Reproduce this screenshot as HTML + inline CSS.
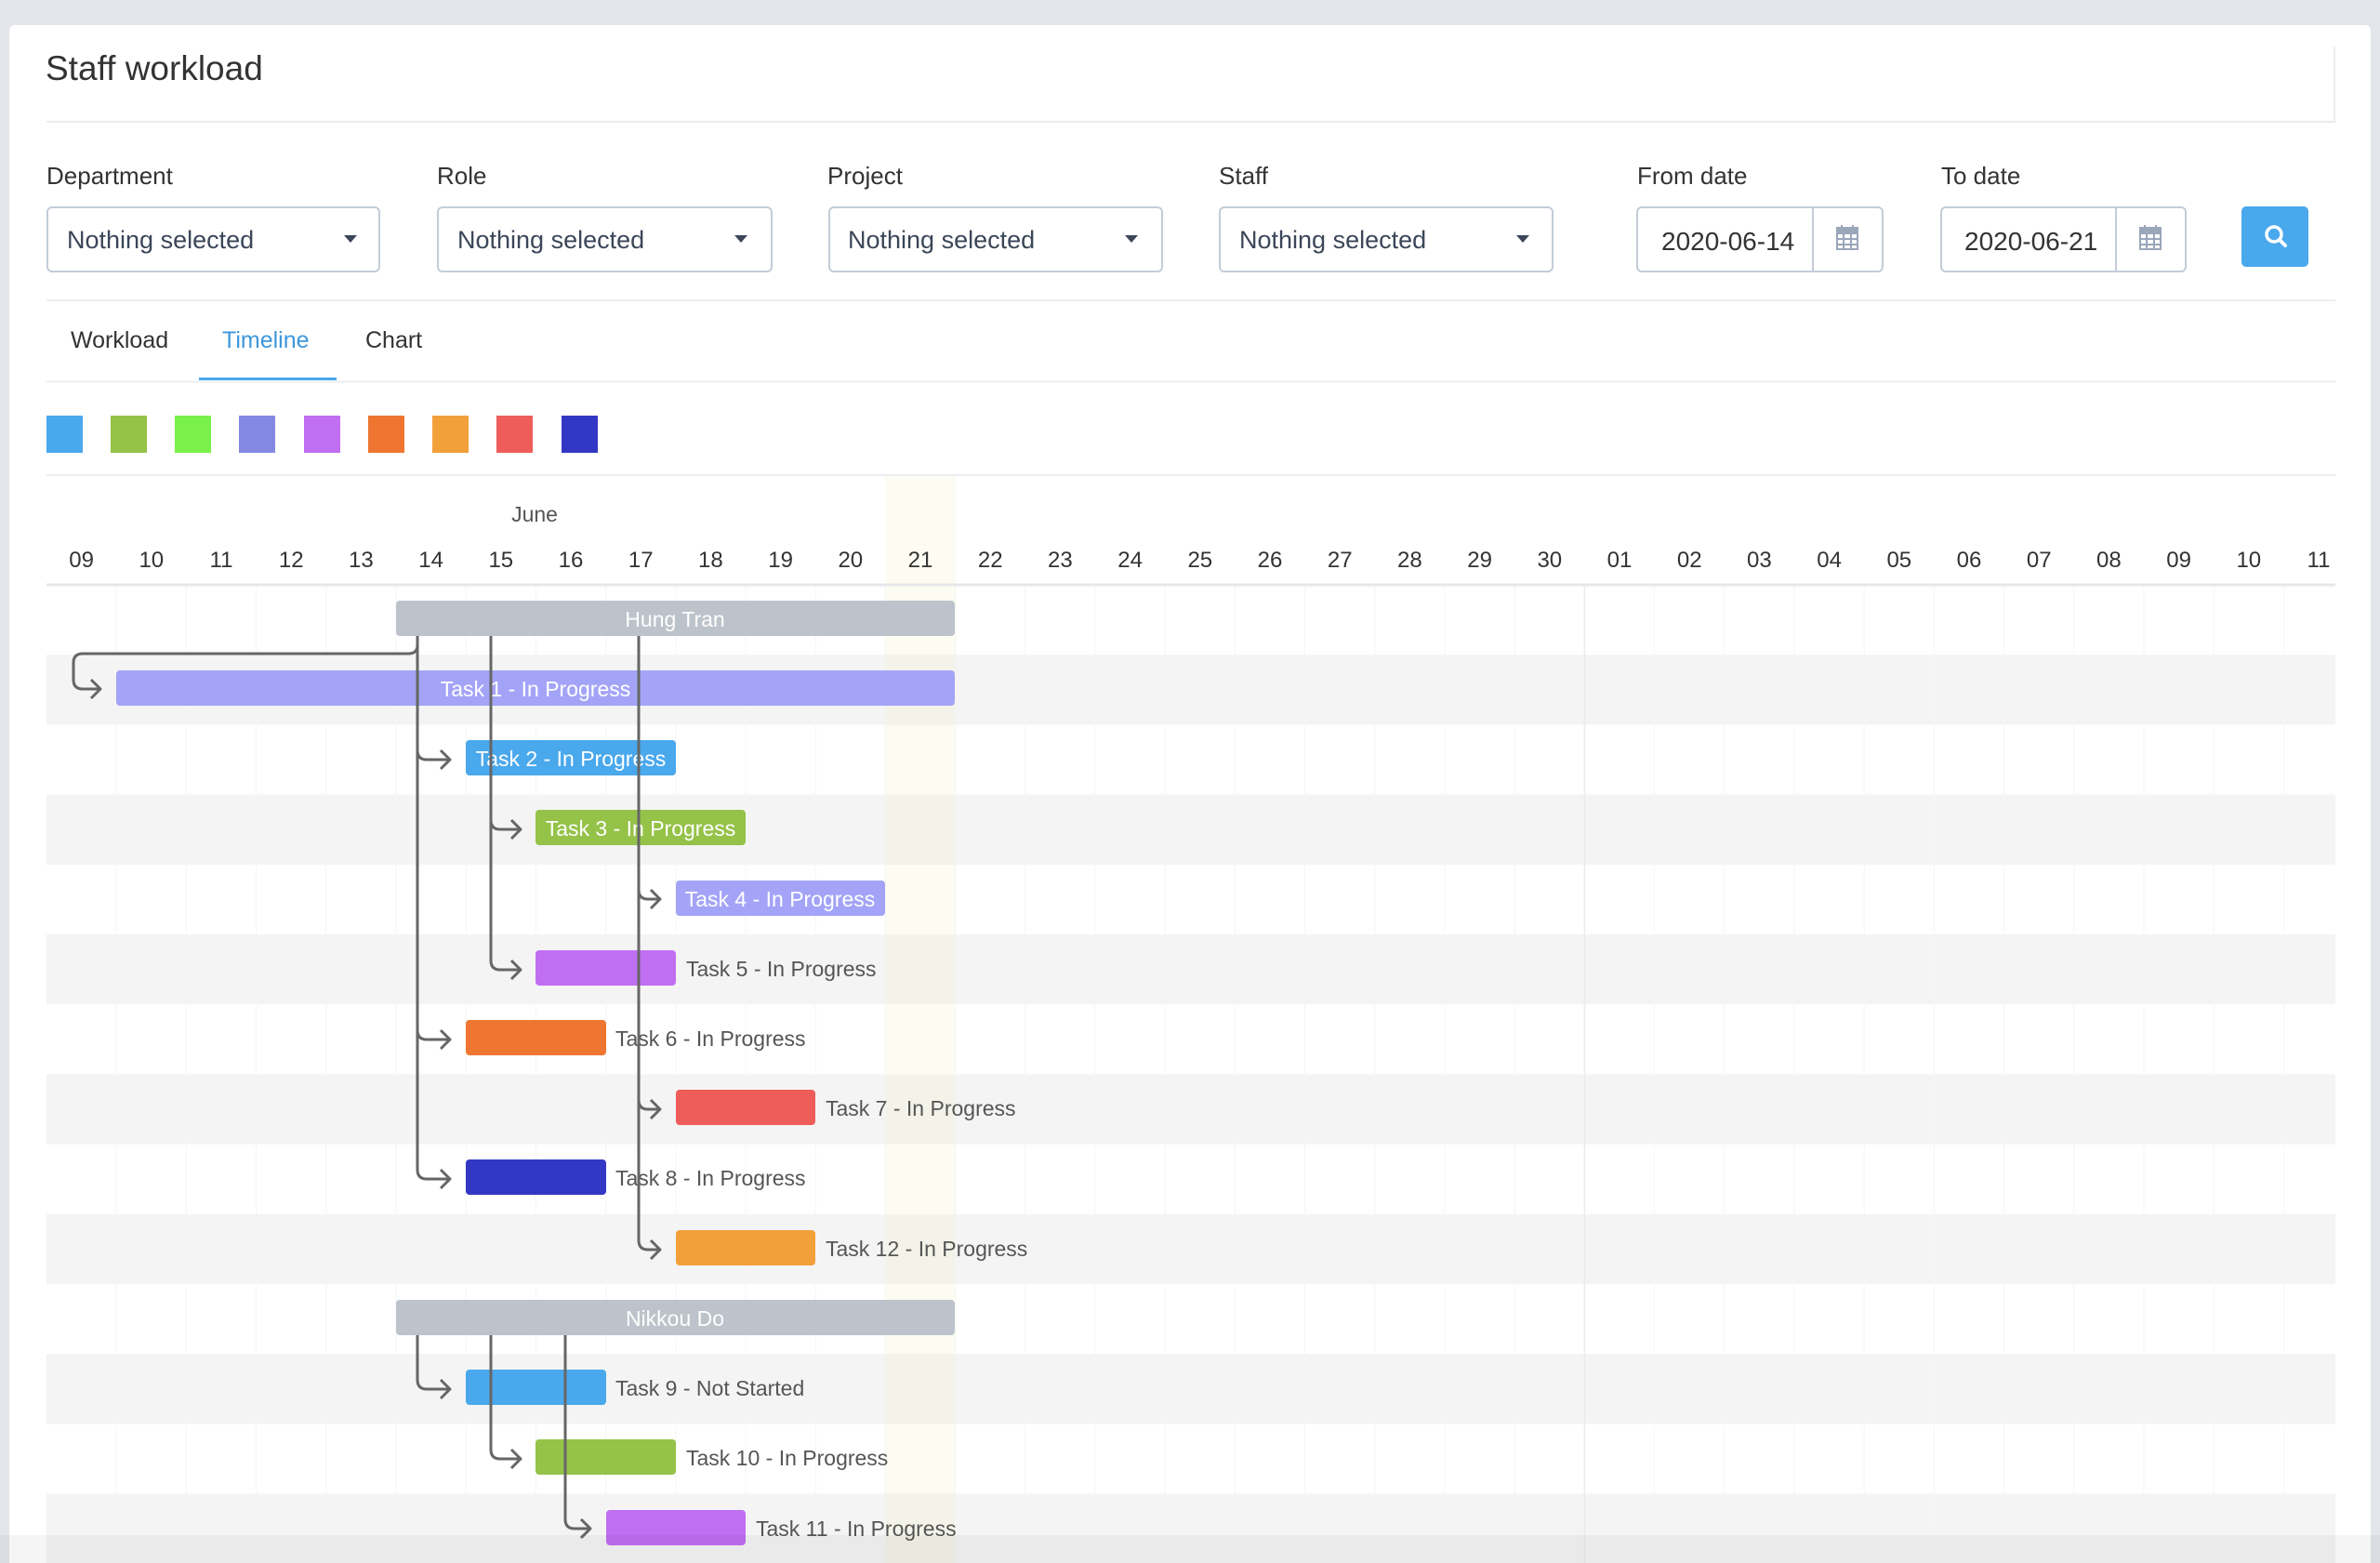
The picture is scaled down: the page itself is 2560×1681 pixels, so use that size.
<!DOCTYPE html>
<html><head><meta charset="utf-8"><style>
html,body{margin:0;padding:0;background:#e3e6eb;}
body{width:2560px;height:1681px;overflow:hidden;position:relative;font-family:"Liberation Sans",sans-serif;}
svg{position:absolute;left:0;top:0;}
</style></head><body>
<svg width="2560" height="1681" viewBox="0 0 2560 1681" xmlns="http://www.w3.org/2000/svg" font-family="Liberation Sans, sans-serif">
<rect x="10" y="27" width="2540" height="1700" rx="6" fill="#ffffff"/>
<text x="49" y="86" font-size="37" fill="#333">Staff workload</text>
<line x1="2511" y1="50" x2="2511" y2="131" stroke="#eceef1" stroke-width="2"/>
<line x1="50" y1="131" x2="2512" y2="131" stroke="#e9ebee" stroke-width="2"/>
<g font-size="26" fill="#333">
<text x="50" y="198">Department</text>
<text x="470" y="198">Role</text>
<text x="890" y="198">Project</text>
<text x="1311" y="198">Staff</text>
<text x="1761" y="198">From date</text>
<text x="2088" y="198">To date</text>
</g>
<g fill="#fff" stroke="#c4ccd8" stroke-width="2">
<rect x="51" y="223" width="357" height="69" rx="5"/>
<rect x="471" y="223" width="359" height="69" rx="5"/>
<rect x="892" y="223" width="358" height="69" rx="5"/>
<rect x="1312" y="223" width="358" height="69" rx="5"/>
<rect x="1761" y="223" width="264" height="69" rx="5"/>
<rect x="2088" y="223" width="263" height="69" rx="5"/>
</g>
<line x1="1950" y1="224" x2="1950" y2="291" stroke="#c4ccd8" stroke-width="2"/>
<line x1="2276" y1="224" x2="2276" y2="291" stroke="#c4ccd8" stroke-width="2"/>
<g font-size="27" fill="#3b4658">
<text x="72" y="267">Nothing selected</text>
<text x="492" y="267">Nothing selected</text>
<text x="912" y="267">Nothing selected</text>
<text x="1333" y="267">Nothing selected</text>
</g>
<g fill="#3b4658">
<path d="M370 253 h14 l-7 8 z"/>
<path d="M790 253 h14 l-7 8 z"/>
<path d="M1210 253 h14 l-7 8 z"/>
<path d="M1631 253 h14 l-7 8 z"/>
</g>
<g font-size="28" fill="#333">
<text x="1787" y="269">2020-06-14</text>
<text x="2113" y="269">2020-06-21</text>
</g>
<g fill="none" stroke="#9aa6ba" stroke-width="2">
<rect x="1976" y="245" width="22" height="23"/>
<path d="M1976 251 h22 M1976 257 h22 M1976 263 h22 M1983 251 v17 M1991 251 v17"/>
<path d="M1981 242 v6 M1993 242 v6"/>
<rect x="2302" y="245" width="22" height="23"/>
<path d="M2302 251 h22 M2302 257 h22 M2302 263 h22 M2309 251 v17 M2317 251 v17"/>
<path d="M2307 242 v6 M2319 242 v6"/>
</g>
<rect x="1976" y="245" width="22" height="6" fill="#9aa6ba"/>
<rect x="2302" y="245" width="22" height="6" fill="#9aa6ba"/>
<rect x="2411" y="222" width="72" height="65" rx="5" fill="#4aa8ec"/>
<circle cx="2446" cy="252" r="8" fill="none" stroke="#fff" stroke-width="3.5"/>
<line x1="2452" y1="258" x2="2458" y2="264" stroke="#fff" stroke-width="4" stroke-linecap="round"/>
<line x1="50" y1="323" x2="2512" y2="323" stroke="#eceef1" stroke-width="2"/>
<g font-size="25">
<text x="76" y="374" fill="#333">Workload</text>
<text x="239" y="374" fill="#3d97dc">Timeline</text>
<text x="393" y="374" fill="#333">Chart</text>
</g>
<line x1="50" y1="410.5" x2="2512" y2="410.5" stroke="#eceef1" stroke-width="2"/>
<rect x="214" y="406" width="148" height="3" fill="#4aa8ec"/>
<rect x="50" y="447" width="39" height="40" fill="#4aa8ec"/>
<rect x="119" y="447" width="39" height="40" fill="#95c248"/>
<rect x="188" y="447" width="39" height="40" fill="#7af04a"/>
<rect x="257" y="447" width="39" height="40" fill="#8489e3"/>
<rect x="327" y="447" width="39" height="40" fill="#c06ef2"/>
<rect x="396" y="447" width="39" height="40" fill="#ee7630"/>
<rect x="465" y="447" width="39" height="40" fill="#f2a03a"/>
<rect x="534" y="447" width="39" height="40" fill="#ee5d5a"/>
<rect x="604" y="447" width="39" height="40" fill="#3338c4"/>
<line x1="50" y1="511" x2="2512" y2="511" stroke="#eceef1" stroke-width="2"/>
<g fill="#f4f4f4">
<rect x="50" y="704.2" width="2462" height="75.2"/>
<rect x="50" y="854.6" width="2462" height="75.2"/>
<rect x="50" y="1005" width="2462" height="75.2"/>
<rect x="50" y="1155.4" width="2462" height="75.2"/>
<rect x="50" y="1305.8" width="2462" height="75.2"/>
<rect x="50" y="1456.2" width="2462" height="75.2"/>
<rect x="50" y="1606.6" width="2462" height="75.2"/>
</g>
<g stroke="#f6f6f6" stroke-width="1">
<path d="M125.2 629V1681 M200.4 629V1681 M275.6 629V1681 M350.8 629V1681 M426 629V1681 M501.2 629V1681 M576.4 629V1681 M651.6 629V1681 M726.8 629V1681 M802 629V1681 M877.2 629V1681 M952.4 629V1681 M1027.6 629V1681 M1102.8 629V1681 M1178 629V1681 M1253.2 629V1681 M1328.4 629V1681 M1403.6 629V1681 M1478.8 629V1681 M1554 629V1681 M1629.2 629V1681 M1779.6 629V1681 M1854.8 629V1681 M1930 629V1681 M2005.2 629V1681 M2080.4 629V1681 M2155.6 629V1681 M2230.8 629V1681 M2306 629V1681 M2381.2 629V1681 M2456.4 629V1681"/>
</g>
<line x1="1704.4" y1="629" x2="1704.4" y2="1681" stroke="#ececec" stroke-width="1.5"/>
<rect x="952.4" y="512" width="75.2" height="1170" fill="#f6f3c6" opacity="0.22"/>
<line x1="50" y1="629" x2="2512" y2="629" stroke="#e6e7ea" stroke-width="3"/>
<text x="575" y="561" font-size="23" fill="#555" text-anchor="middle">June</text>
<g font-size="24" fill="#333" text-anchor="middle">
<text x="87.6" y="610">09</text><text x="162.8" y="610">10</text><text x="238" y="610">11</text><text x="313.2" y="610">12</text><text x="388.4" y="610">13</text><text x="463.6" y="610">14</text><text x="538.8" y="610">15</text><text x="614" y="610">16</text><text x="689.2" y="610">17</text><text x="764.4" y="610">18</text><text x="839.6" y="610">19</text><text x="914.8" y="610">20</text><text x="990" y="610">21</text><text x="1065.2" y="610">22</text><text x="1140.4" y="610">23</text><text x="1215.6" y="610">24</text><text x="1290.8" y="610">25</text><text x="1366" y="610">26</text><text x="1441.2" y="610">27</text><text x="1516.4" y="610">28</text><text x="1591.6" y="610">29</text><text x="1666.8" y="610">30</text><text x="1742" y="610">01</text><text x="1817.2" y="610">02</text><text x="1892.4" y="610">03</text><text x="1967.6" y="610">04</text><text x="2042.8" y="610">05</text><text x="2118" y="610">06</text><text x="2193.2" y="610">07</text><text x="2268.4" y="610">08</text><text x="2343.6" y="610">09</text><text x="2418.8" y="610">10</text><text x="2494" y="610">11</text>
</g>
<rect x="426" y="646" width="601" height="38" rx="4" fill="#bcc3cb"/>
<rect x="125" y="721" width="902" height="38" rx="4" fill="#a3a4f7"/>
<rect x="501" y="796" width="226" height="38" rx="4" fill="#4aa8ec"/>
<rect x="576" y="871" width="226" height="38" rx="4" fill="#95c248"/>
<rect x="727" y="947" width="225" height="38" rx="4" fill="#a3a4f7"/>
<rect x="576" y="1022" width="151" height="38" rx="4" fill="#c06ef2"/>
<rect x="501" y="1097" width="151" height="38" rx="4" fill="#ee7630"/>
<rect x="727" y="1172" width="150" height="38" rx="4" fill="#ee5d5a"/>
<rect x="501" y="1247" width="151" height="38" rx="4" fill="#3338c4"/>
<rect x="727" y="1323" width="150" height="38" rx="4" fill="#f2a03a"/>
<rect x="426" y="1398" width="601" height="38" rx="4" fill="#bcc3cb"/>
<rect x="501" y="1473" width="151" height="38" rx="4" fill="#4aa8ec"/>
<rect x="576" y="1548" width="151" height="38" rx="4" fill="#95c248"/>
<rect x="652" y="1624" width="150" height="38" rx="4" fill="#c06ef2"/>
<g font-size="23" fill="#fff" text-anchor="middle">
<text x="726" y="674">Hung Tran</text>
<text x="576" y="749">Task 1 - In Progress</text>
<text x="614" y="824">Task 2 - In Progress</text>
<text x="689" y="899">Task 3 - In Progress</text>
<text x="839" y="975">Task 4 - In Progress</text>
<text x="726" y="1426">Nikkou Do</text>
</g>
<g font-size="23" fill="#555">
<text x="738" y="1050">Task 5 - In Progress</text>
<text x="662" y="1125">Task 6 - In Progress</text>
<text x="888" y="1200">Task 7 - In Progress</text>
<text x="662" y="1275">Task 8 - In Progress</text>
<text x="888" y="1351">Task 12 - In Progress</text>
<text x="662" y="1501">Task 9 - Not Started</text>
<text x="738" y="1576">Task 10 - In Progress</text>
<text x="813" y="1652">Task 11 - In Progress</text>
</g>
<g fill="none" stroke="#666" stroke-width="3" stroke-linejoin="round">
<path d="M449 684 V694 Q449 703 439 703 H89 Q79 703 79 713 V731 Q79 741 89 741 H108 M98 731 L108 741 L98 751"/>
<path d="M449 684 V1258 Q449 1268 459 1268 H484 M474 1258 L484 1268 L474 1278"/>
<path d="M449 807 Q449 817 459 817 H484 M474 807 L484 817 L474 827"/>
<path d="M449 1108 Q449 1118 459 1118 H484 M474 1108 L484 1118 L474 1128"/>
<path d="M528 684 V1033 Q528 1043 538 1043 H560 M550 1033 L560 1043 L550 1053"/>
<path d="M528 882 Q528 892 538 892 H560 M550 882 L560 892 L550 902"/>
<path d="M687 684 V1334 Q687 1344 697 1344 H710 M700 1334 L710 1344 L700 1354"/>
<path d="M687 957 Q687 967 697 967 H710 M700 957 L710 967 L700 977"/>
<path d="M687 1183 Q687 1193 697 1193 H710 M700 1183 L710 1193 L700 1203"/>
<path d="M449 1436 V1484 Q449 1494 459 1494 H484 M474 1484 L484 1494 L474 1504"/>
<path d="M528 1436 V1559 Q528 1569 538 1569 H560 M550 1559 L560 1569 L550 1579"/>
<path d="M608 1436 V1634 Q608 1644 618 1644 H635 M625 1634 L635 1644 L625 1654"/>
</g>
<rect x="0" y="1651" width="2560" height="30" fill="#000" opacity="0.04"/>
</svg>
</body></html>
